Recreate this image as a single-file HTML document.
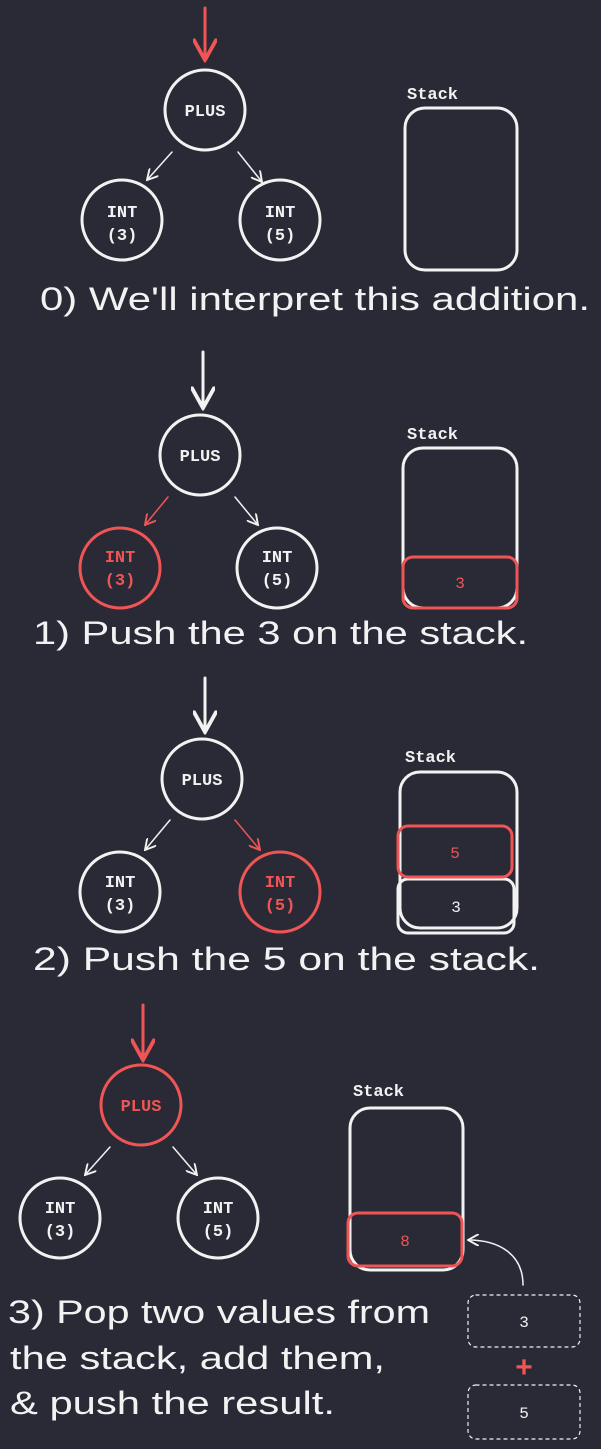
<!DOCTYPE html>
<html><head><meta charset="utf-8"><style>
html,body{margin:0;padding:0;background:#292a35;}
svg{display:block}
.n{font-family:"Liberation Mono",monospace;font-weight:bold;font-size:17px;text-anchor:middle;}
.cap{font-family:"Liberation Sans",sans-serif;font-size:32px;fill:#f2f2f2;}
.lbl{font-family:"Liberation Mono",monospace;font-weight:bold;font-size:17px;fill:#f2f2f2;}
</style></head><body>
<svg width="601" height="1449" viewBox="0 0 601 1449">
<defs>
<marker id="aw" viewBox="0 0 10 10" refX="9" refY="5" markerWidth="8" markerHeight="8" orient="auto-start-reverse"><path d="M0,0 L9,5 L0,10" fill="none" stroke="#f2f2f2" stroke-width="1.6"/></marker>
<marker id="ar" viewBox="0 0 10 10" refX="9" refY="5" markerWidth="8" markerHeight="8" orient="auto-start-reverse"><path d="M0,0 L9,5 L0,10" fill="none" stroke="#f05555" stroke-width="1.6"/></marker>
</defs>
<g fill="none" stroke-width="3" stroke-linecap="round">
<!-- Panel 0 -->
<g>
<line x1="205" y1="8" x2="205" y2="60" stroke="#f05555" marker-end="url(#ar)"/>
<circle cx="205" cy="110" r="40" stroke="#f2f2f2"/>
<line x1="172" y1="152" x2="147" y2="180" stroke="#f2f2f2" stroke-width="1.5" marker-end="url(#aw)"/>
<line x1="238" y1="152" x2="262" y2="182" stroke="#f2f2f2" stroke-width="1.5" marker-end="url(#aw)"/>
<circle cx="122" cy="220" r="40" stroke="#f2f2f2"/>
<circle cx="280" cy="220" r="40" stroke="#f2f2f2"/>
<rect x="405" y="108" width="112" height="162" rx="20" stroke="#f2f2f2"/>
</g>
<!-- Panel 1 -->
<g>
<line x1="203" y1="352" x2="203" y2="408" stroke="#f2f2f2" marker-end="url(#aw)"/>
<circle cx="200" cy="455" r="40" stroke="#f2f2f2"/>
<line x1="168" y1="497" x2="145" y2="525" stroke="#f05555" stroke-width="1.5" marker-end="url(#ar)"/>
<line x1="235" y1="497" x2="258" y2="525" stroke="#f2f2f2" stroke-width="1.5" marker-end="url(#aw)"/>
<circle cx="120" cy="568" r="40" stroke="#f05555"/>
<circle cx="277" cy="568" r="40" stroke="#f2f2f2"/>
<rect x="403" y="448" width="114" height="160" rx="20" stroke="#f2f2f2"/>
<rect x="403" y="557" width="114" height="51" rx="10" stroke="#f05555"/>
</g>
<!-- Panel 2 -->
<g>
<line x1="205" y1="678" x2="205" y2="732" stroke="#f2f2f2" marker-end="url(#aw)"/>
<circle cx="202" cy="779" r="40" stroke="#f2f2f2"/>
<line x1="170" y1="820" x2="145" y2="850" stroke="#f2f2f2" stroke-width="1.5" marker-end="url(#aw)"/>
<line x1="235" y1="820" x2="260" y2="850" stroke="#f05555" stroke-width="1.5" marker-end="url(#ar)"/>
<circle cx="120" cy="892" r="40" stroke="#f2f2f2"/>
<circle cx="280" cy="892" r="40" stroke="#f05555"/>
<rect x="400" y="772" width="117" height="156" rx="20" stroke="#f2f2f2"/>
<rect x="398" y="879" width="116" height="54" rx="10" stroke="#f2f2f2"/>
<rect x="398" y="826" width="114" height="51" rx="10" stroke="#f05555"/>
</g>
<!-- Panel 3 -->
<g>
<line x1="143" y1="1005" x2="143" y2="1060" stroke="#f05555" marker-end="url(#ar)"/>
<circle cx="141" cy="1105" r="40" stroke="#f05555"/>
<line x1="110" y1="1147" x2="85" y2="1175" stroke="#f2f2f2" stroke-width="1.5" marker-end="url(#aw)"/>
<line x1="173" y1="1147" x2="197" y2="1175" stroke="#f2f2f2" stroke-width="1.5" marker-end="url(#aw)"/>
<circle cx="60" cy="1218" r="40" stroke="#f2f2f2"/>
<circle cx="218" cy="1218" r="40" stroke="#f2f2f2"/>
<rect x="350" y="1108" width="113" height="162" rx="20" stroke="#f2f2f2"/>
<rect x="348" y="1213" width="114" height="53" rx="10" stroke="#f05555"/>
<path d="M523,1285 C523,1255 500,1240 468,1240" stroke="#f2f2f2" stroke-width="1.5" marker-end="url(#aw)"/>
<rect x="468" y="1295" width="112" height="52" rx="8" stroke="#f2f2f2" stroke-width="1.2" stroke-dasharray="3,4"/>
<rect x="468" y="1385" width="112" height="54" rx="8" stroke="#f2f2f2" stroke-width="1.2" stroke-dasharray="3,4"/>
</g>
</g>
<!-- Node text -->
<g class="n" fill="#f2f2f2">
<text x="205" y="116">PLUS</text>
<text x="122" y="217">INT</text><text x="122" y="240">(3)</text>
<text x="280" y="217">INT</text><text x="280" y="240">(5)</text>
<text x="200" y="461">PLUS</text>
<text x="120" y="562" fill="#f05555">INT</text><text x="120" y="585" fill="#f05555">(3)</text>
<text x="277" y="562">INT</text><text x="277" y="585">(5)</text>
<text x="460" y="588" fill="#f05555" font-weight="normal" font-size="16">3</text>
<text x="202" y="785">PLUS</text>
<text x="120" y="887">INT</text><text x="120" y="910">(3)</text>
<text x="280" y="887" fill="#f05555">INT</text><text x="280" y="910" fill="#f05555">(5)</text>
<text x="455" y="858" fill="#f05555" font-weight="normal" font-size="16">5</text>
<text x="456" y="912" font-weight="normal" font-size="16">3</text>
<text x="141" y="1111" fill="#f05555">PLUS</text>
<text x="60" y="1213">INT</text><text x="60" y="1236">(3)</text>
<text x="218" y="1213">INT</text><text x="218" y="1236">(5)</text>
<text x="405" y="1246" fill="#f05555" font-weight="normal" font-size="16">8</text>
<text x="524" y="1327" font-weight="normal" font-size="16">3</text>
<text x="524" y="1377" fill="#f05555" font-size="30">+</text>
<text x="524" y="1418" font-weight="normal" font-size="16">5</text>
</g>
<text class="lbl" x="407" y="99">Stack</text>
<text class="lbl" x="407" y="439">Stack</text>
<text class="lbl" x="405" y="762">Stack</text>
<text class="lbl" x="353" y="1096">Stack</text>
<!-- Captions -->
<text class="cap" x="40" y="310" textLength="550" lengthAdjust="spacingAndGlyphs">0) We'll interpret this addition.</text>
<text class="cap" x="33" y="644" textLength="495" lengthAdjust="spacingAndGlyphs">1) Push the 3 on the stack.</text>
<text class="cap" x="33" y="970" textLength="507" lengthAdjust="spacingAndGlyphs">2) Push the 5 on the stack.</text>
<text class="cap" x="8" y="1323" textLength="422" lengthAdjust="spacingAndGlyphs">3) Pop two values from</text>
<text class="cap" x="10" y="1369" textLength="375" lengthAdjust="spacingAndGlyphs">the stack, add them,</text>
<text class="cap" x="10" y="1414" textLength="325" lengthAdjust="spacingAndGlyphs">&amp; push the result.</text>
</svg>
</body></html>
